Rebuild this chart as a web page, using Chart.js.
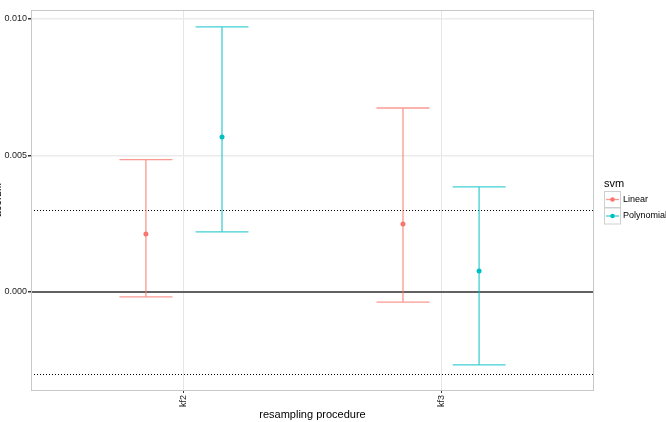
<!DOCTYPE html>
<html>
<head>
<meta charset="utf-8">
<script src="https://cdn.jsdelivr.net/npm/chart.js@4/dist/chart.umd.min.js"></script>
<style>
  body { margin: 0; background: #fff; }
  canvas { display: block; }
</style>
</head>
<body>
<canvas id="myChart" width="666" height="422"></canvas>
<script>
// data
var procedures = ['kf2', 'kf3'];
var svmTypes = ['Linear', 'Polynomial'];
var svmColors = ['#F8766D', '#00BFC4'];
var barColors = ['rgba(248,118,109,0.75)', 'rgba(0,191,196,0.75)'];

var meanLinear = [0.00212, 0.00249];
var lowerLinear = [-0.00018, -0.00037];
var upperLinear = [0.00485, 0.00674];

var meanPoly = [0.00568, 0.00077];
var lowerPoly = [0.0022, -0.00267];
var upperPoly = [0.00971, 0.00385];

var yTicks = [0, 0.005, 0.010];
var refLines = [-0.003, 0.003];

var dodge = 0.148;    // half of dodge width, x units
var capHalf = 0.103;  // half width of error bar caps

var means = [meanLinear, meanPoly];
var lowers = [lowerLinear, lowerPoly];
var uppers = [upperLinear, upperPoly];

function xPos(i, s) {
  return (i + 1) + (s === 0 ? -dodge : dodge);
}

var datasets = svmTypes.map(function (name, s) {
  return {
    label: name,
    data: procedures.map(function (p, i) { return { x: xPos(i, s), y: means[s][i] }; }),
    backgroundColor: svmColors[s],
    borderColor: svmColors[s],
    pointRadius: 2.5,
    pointHoverRadius: 2.5,
    borderWidth: 0
  };
});

var ggPlugin = {
  id: 'gg',
  beforeDatasetsDraw: function (chart) {
    var c = chart.ctx, a = chart.chartArea;
    var xs = chart.scales.x, ys = chart.scales.y;
    c.save();
    // dotted reference lines
    c.strokeStyle = '#000';
    c.lineWidth = 1;
    c.setLineDash([1, 2]);
    refLines.forEach(function (v) {
      var y = Math.round(ys.getPixelForValue(v)) + 0.5;
      c.beginPath(); c.moveTo(a.left, y); c.lineTo(a.right, y); c.stroke();
    });
    c.setLineDash([]);
    // zero line
    c.strokeStyle = '#333';
    c.lineWidth = 1.5;
    var y0 = ys.getPixelForValue(0);
    c.beginPath(); c.moveTo(a.left, y0); c.lineTo(a.right, y0); c.stroke();
    // error bars
    c.lineWidth = 1.3;
    svmTypes.forEach(function (name, s) {
      c.strokeStyle = barColors[s];
      procedures.forEach(function (p, i) {
        var x = xs.getPixelForValue(xPos(i, s));
        var xl = xs.getPixelForValue(xPos(i, s) - capHalf);
        var xr = xs.getPixelForValue(xPos(i, s) + capHalf);
        var yl = ys.getPixelForValue(lowers[s][i]);
        var yu = ys.getPixelForValue(uppers[s][i]);
        c.beginPath();
        c.moveTo(x, yl); c.lineTo(x, yu);
        c.moveTo(xl, yl); c.lineTo(xr, yl);
        c.moveTo(xl, yu); c.lineTo(xr, yu);
        c.stroke();
      });
    });
    c.restore();
  },
  afterDraw: function (chart) {
    var c = chart.ctx, a = chart.chartArea;
    c.save();
    // panel border
    c.strokeStyle = '#c8c8c8';
    c.lineWidth = 1;
    c.strokeRect(a.left + 0.5, a.top + 0.5, a.right - a.left - 1, a.bottom - a.top);
    // axis titles
    c.fillStyle = '#000';
    c.font = '11px "Liberation Sans", Arial, sans-serif';
    c.textAlign = 'center';
    c.textBaseline = 'alphabetic';
    c.fillText('resampling procedure', (a.left + a.right) / 2, 418);
    c.save();
    c.translate(1, (a.top + a.bottom) / 2);
    c.rotate(-Math.PI / 2);
    c.fillText('acc.diff', 0, 0);
    c.restore();
    // legend
    c.textAlign = 'left';
    c.fillText('svm', 604, 187);
    c.font = '9px "Liberation Sans", Arial, sans-serif';
    c.textBaseline = 'middle';
    svmTypes.forEach(function (name, s) {
      var top = 191 + s * 16.5;
      c.strokeStyle = '#cfcfcf';
      c.lineWidth = 1;
      c.strokeRect(604.5, top + 0.5, 16, 16);
      c.strokeStyle = barColors[s];
      c.lineWidth = 1.3;
      c.beginPath(); c.moveTo(606, top + 8.5); c.lineTo(619, top + 8.5); c.stroke();
      c.fillStyle = svmColors[s];
      c.beginPath(); c.arc(612.5, top + 8.5, 2.3, 0, Math.PI * 2); c.fill();
      c.fillStyle = '#000';
      c.fillText(name, 623, top + 8.5);
    });
    c.restore();
  }
};

var ctx = document.getElementById('myChart').getContext('2d');
var myChart = new Chart(ctx, {
  type: 'scatter',
  data: { datasets: datasets },
  options: {
    responsive: false,
    animation: false,
    events: [],
    layout: { padding: { left: 0, right: 72, top: 10, bottom: 0 } },
    plugins: { legend: { display: false }, tooltip: { enabled: false } },
    scales: {
      x: {
        type: 'linear',
        min: 0.405,
        max: 2.595,
        afterBuildTicks: function (scale) {
          scale.ticks = procedures.map(function (p, i) { return { value: i + 1 }; });
        },
        afterFit: function (scale) { scale.height = 32; },
        border: { display: false },
        grid: { color: '#e6e6e6', lineWidth: 1, tickLength: 3, tickColor: '#333' },
        ticks: {
          minRotation: 90, maxRotation: 90, padding: 2,
          color: '#222',
          font: { size: 9, family: '"Liberation Sans", Arial, sans-serif' },
          callback: function (v) { return procedures[v - 1]; }
        }
      },
      y: {
        type: 'linear',
        min: -0.00359,
        max: 0.01033,
        afterBuildTicks: function (scale) {
          scale.ticks = yTicks.map(function (v) { return { value: v }; });
        },
        afterFit: function (scale) { scale.width = 31; },
        border: { display: false },
        grid: { color: '#ebebeb', lineWidth: 1.5, tickLength: 3, tickColor: '#333' },
        ticks: {
          padding: 1,
          color: '#222',
          font: { size: 9, family: '"Liberation Sans", Arial, sans-serif' },
          callback: function (v) { return v.toFixed(3); }
        }
      }
    }
  },
  plugins: [ggPlugin]
});
</script>
</body>
</html>
